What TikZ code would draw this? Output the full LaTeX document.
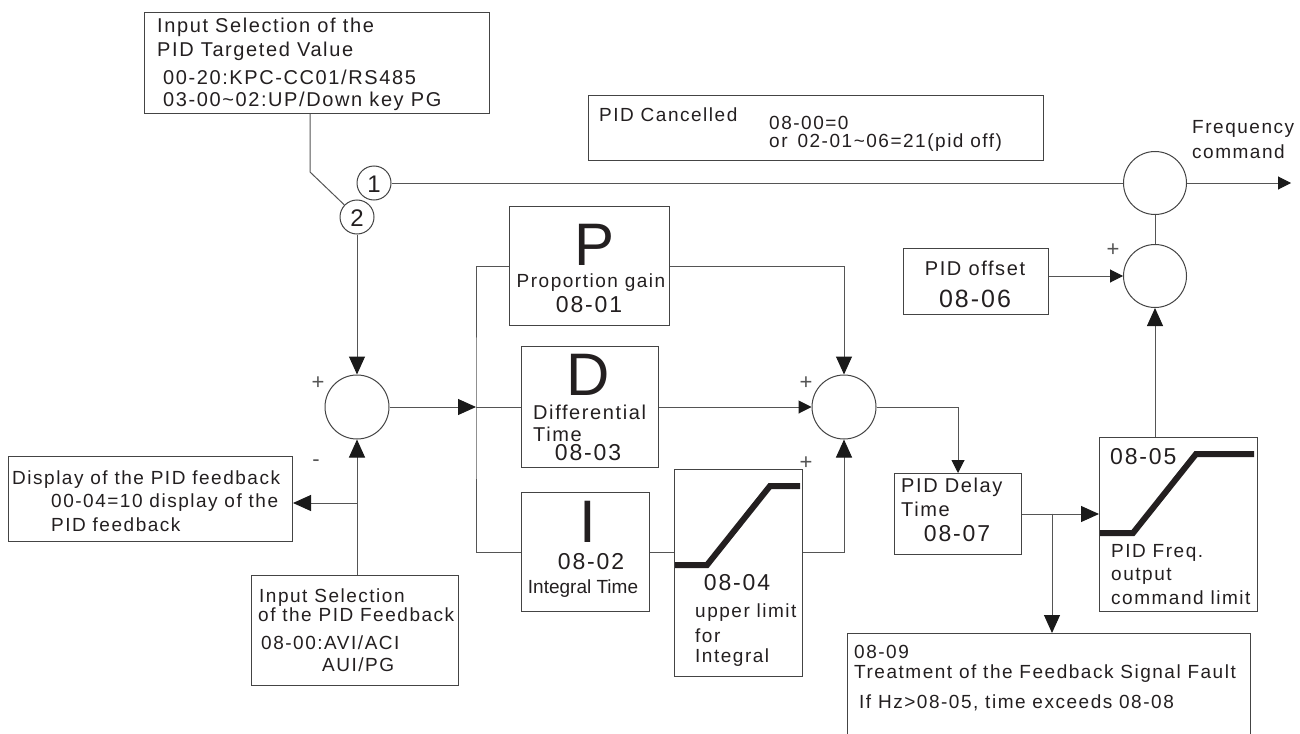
\documentclass[tikz,border=0pt]{standalone}
\usepackage{fontspec}
\setmainfont{Liberation Sans}[LetterSpace=8]
\newfontfamily\plainfont{Liberation Sans}
\usetikzlibrary{arrows.meta,calc}
\definecolor{txt}{HTML}{231F20}
\definecolor{lncol}{HTML}{555555}
\definecolor{boxcol}{HTML}{444444}
\definecolor{tipcol}{HTML}{1A1A1A}
\tikzset{
  ln/.style={draw=lncol, line width=1pt},
  arrL/.style={ln, -{Triangle[length=18pt,width=16pt,color=tipcol]}},
  arrS/.style={ln, -{Triangle[length=13pt,width=13pt,color=tipcol]}},
  boxn/.style={draw=boxcol, line width=1pt, rectangle, inner sep=0pt, anchor=north west},
  sumc/.style={circle, draw=boxcol, line width=1pt, inner sep=0pt},
  lbl/.style={inner sep=0pt, text=txt, font=\fontsize{19}{22}\selectfont, anchor=west},
  lbt/.style={lbl, font=\fontsize{20}{22}\selectfont},
  num/.style={inner sep=0pt, text=txt, font=\fontsize{23}{26}\selectfont, anchor=center},
  big/.style={inner sep=0pt, text=txt, font=\plainfont\fontsize{60}{62}\selectfont, anchor=center},
  pm/.style={inner sep=0pt, text=lncol, font=\plainfont\fontsize{22}{24}\selectfont, anchor=center},
  limcurve/.style={draw=txt, line width=6pt}
}
\begin{document}
\begin{tikzpicture}[x=1pt,y=-1pt]
\useasboundingbox (0,0) rectangle (1300,733);
\clip (0,0) rectangle (1300,733);
\fill[white] (0,0) rectangle (1300,733);

% ---------- boxes ----------
\node[boxn, minimum width=345pt, minimum height=101pt] (tgt) at (144,12) {};
\node[boxn, minimum width=455pt, minimum height=65pt] (canc) at (588,95) {};
\node[boxn, minimum width=160pt, minimum height=119pt] (Pbox) at (509,206) {};
\node[boxn, minimum width=137pt, minimum height=121pt] (Dbox) at (521,346) {};
\node[boxn, minimum width=128pt, minimum height=119pt] (Ibox) at (521,492) {};
\node[boxn, minimum width=128pt, minimum height=207pt] (lim) at (674,469) {};
\node[boxn, minimum width=145pt, minimum height=66pt] (offs) at (903,248) {};
\node[boxn, minimum width=127pt, minimum height=81pt] (delay) at (894,473) {};
\node[boxn, minimum width=158pt, minimum height=174pt] (flim) at (1099,437) {};
\node[boxn, minimum width=284pt, minimum height=85pt] (disp) at (8,456) {};
\node[boxn, minimum width=207pt, minimum height=110pt] (fbk) at (251,575) {};
\node[boxn, minimum width=403pt, minimum height=140pt] (fault) at (847,633) {};

% ---------- circles ----------
\node[sumc, minimum size=34pt] (c1) at (374,183) {};
\node[sumc, minimum size=34pt] (c2) at (357,217) {};
\node[inner sep=0pt, text=txt, font=\plainfont\fontsize{24}{26}\selectfont] (c1t) at (374,184) {1};
\node[inner sep=0pt, text=txt, font=\plainfont\fontsize{24}{26}\selectfont] (c2t) at (357,218) {2};
\node[sumc, minimum size=64pt] (s1) at (357,407) {};
\node[sumc, minimum size=64pt] (s2) at (844,407) {};
\node[sumc, minimum size=63pt] (cout) at (1155,183) {};
\node[sumc, minimum size=63pt] (cofs) at (1155,276) {};

% ---------- texts ----------
\node[lbt] (t1) at (157,27) {Input Selection of the};
\node[lbt] (t2) at (157,51) {PID Targeted Value};
\node[lbt] (t3) at (163,77) {00-20:KPC-CC01/RS485};
\node[lbt] (t4) at (163,101) {03-00\textasciitilde02:UP/Down key PG};

\node[lbl] (ca1) at (599,115) {PID Cancelled};
\node[lbl] (ca2) at (769,123) {08-00=0};
\node[lbl] (ca3) at (769,143) {or\, 02-01\textasciitilde06=21(pid off)};

\node[lbl] (fc1) at (1192,129) {Frequency};
\node[lbl] (fc2) at (1192,152) {command};

\node[lbt, anchor=center] (of1) at (975,268) {PID offset};
\node[num, font=\fontsize{25}{28}\selectfont] (of2) at (975,299) {08-06};

\node[big] (Pl) at (595,245) {P};
\node[lbl, anchor=center] (P1) at (591,283) {Proportion gain};
\node[num] (P2) at (589,305) {08-01};

\node[big] (Dl) at (588,375) {D};
\node[lbt] (D1) at (533,412) {Differential};
\node[lbt] (D2) at (533,434) {Time};
\node[num] (D3) at (588,453) {08-03};

\node[big] (Il) at (588,522) {I};
\node[num] (I1) at (591,562) {08-02};
\node[lbl, anchor=center, font=\plainfont\fontsize{19}{22}\selectfont] (I2) at (583,589) {Integral Time};

\node[num] (L1) at (737,583) {08-04};
\node[lbl] (L2) at (695,613) {upper limit};
\node[lbl] (L3) at (695,636) {for};
\node[lbl] (L4) at (695,658) {Integral};

\node[lbt] (dl1) at (901,487) {PID Delay};
\node[lbt] (dl2) at (901,509) {Time};
\node[num] (dl3) at (957,534) {08-07};

\node[num, anchor=west] (fl1) at (1110,457) {08-05};
\node[lbl] (fl2) at (1111,553) {PID Freq.};
\node[lbl] (fl3) at (1111,576) {output};
\node[lbl] (fl4) at (1111,598) {command limit};

\node[lbl] (ds1) at (12,480) {Display of the PID feedback};
\node[lbl] (ds2) at (51,503) {00-04=10 display of the};
\node[lbl] (ds3) at (51,525) {PID feedback};

\node[lbl] (fb1) at (259,598) {Input Selection};
\node[lbl] (fb2) at (258,615) {of the PID Feedback};
\node[lbl] (fb3) at (261,643) {08-00:AVI/ACI};
\node[lbl] (fb4) at (322,665) {AUI/PG};

\node[lbl] (ft1) at (854,652) {08-09};
\node[lbl] (ft2) at (854,674) {Treatment of the Feedback Signal Fault};
\node[lbl] (ft3) at (859,703) {If Hz>08-05, time exceeds 08-08};

% ---------- signs ----------
\node[pm] (pl1) at (318,383) {+};
\node[pm] (mi1) at (316,463) {-};
\node[pm] (pl2) at (806,383) {+};
\node[pm] (pl3) at (806,463) {+};
\node[pm] (pl4) at (1113,250) {+};

% ---------- limiter curves ----------
\draw[limcurve] (675,565) -- (707,565) -- (770,486) -- (800,486);
\draw[limcurve] (1100,533) -- (1133,533) -- (1196,454) -- (1254,454);

% ---------- connectors ----------
\coordinate (k1) at (310,172);
\draw[ln] (k1 |- tgt.south) -- (k1) -- (c2);
\draw[arrL] (c2) -- (s1);
\draw[ln] (c1) -- (cout);
\coordinate (fout) at (1291,183);
\draw[arrS] (cout.east) -- (fout);
\draw[ln] (cofs) -- (cout);
\draw[arrS] (offs.east |- cofs) -- (cofs.west);
\draw[arrL] (flim.north -| cofs) -- (cofs.south);

\coordinate (br) at (476,407);
\draw[arrL] (s1.east) -- (br);
\draw[ln] (Pbox.west) -| (br) |- (Ibox.west);
\draw[ln] (br) -- (Dbox.west |- br);
\draw[arrL] (Pbox.east) -| (s2.north);
\draw[arrS] (Dbox.east |- s2) -- (s2.west);
\draw[ln] (Ibox.east) -- (lim.west |- Ibox.east);
\draw[arrL] (lim.east |- Ibox.east) -| (s2.south);
\draw[arrS] (s2.east) -| (delay.north);
\draw[arrL] (delay.east) -- (flim.west |- delay.east);
\coordinate (jn) at (1052,513.5);
\draw[arrL] (jn) -- (jn |- fault.north);

\draw[arrL] (fbk.north -| s1) -- (s1.south);
\coordinate (fb) at (357,503);
\draw[arrL] (fb) -- (disp.east |- fb);
\end{tikzpicture}
\end{document}
